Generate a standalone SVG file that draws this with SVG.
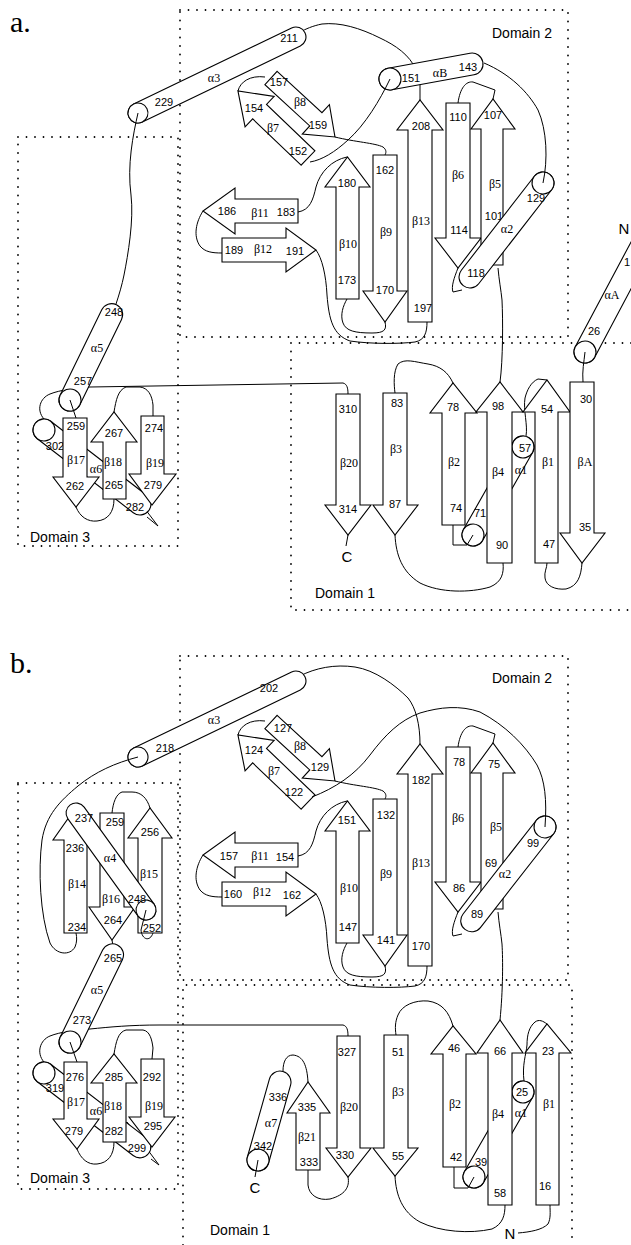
<svg xmlns="http://www.w3.org/2000/svg" width="631" height="1245" viewBox="0 0 631 1245">
<style>
.s{fill:#fff;stroke:#000;stroke-width:1.1}
.c{fill:none;stroke:#000;stroke-width:1}
.box{fill:none;stroke:#000;stroke-width:1.8;stroke-dasharray:0 8.5;stroke-linecap:round}
text{font-family:"Liberation Sans",Arial,sans-serif;fill:#000}
.n{font-size:11px;text-anchor:middle}
.g{font-family:"Liberation Serif","Times New Roman",serif;font-size:12px;text-anchor:middle}
.d{font-size:14px}
.p{font-family:"Liberation Serif","Times New Roman",serif;font-size:30px}
.t{font-size:15px;text-anchor:middle}
</style>
<rect width="631" height="1245" fill="#fff"/>
<g id="domain-boxes">
<path class="box" d="M180,10 H568 V337 H180 Z"/>
<path class="box" d="M631,343 H291 V610 H631"/>
<path class="box" d="M18,137 H178 V546 H18 Z"/>
<path class="box" d="M180,656 H568 V980 H180 Z"/>
<path class="box" d="M183,1245 V985 H572 V1245"/>
<path class="box" d="M18,783 H178 V1189 H18 Z"/>
</g>
<g id="panel-labels">
<text class="p" x="10" y="32">a.</text>
<text class="p" x="10" y="673">b.</text>
<text class="d" x="492" y="38">Domain 2</text>
<text class="d" x="30" y="542">Domain 3</text>
<text class="d" x="315" y="598">Domain 1</text>
<text class="d" x="492" y="683">Domain 2</text>
<text class="d" x="30" y="1183">Domain 3</text>
<text class="d" x="210" y="1235">Domain 1</text>
</g>
<g id="connectors">
<path class="c" d="M582,563 C581,576 578,586 566,589 C555,590 546,586 545,578 C544,572 547,568 547,563"/>
<path class="c" d="M547,380 L538,379 C531,382 527,390 525,398 C523,410 528,425 526,436"/>
<path class="c" d="M453,383 C448,372 440,366 428,364 C415,362 405,358 398,364 C393,372 394,385 395,393"/>
<path class="c" d="M395,535 C396,555 402,572 420,583 C440,593 470,593 490,587 C502,582 504,573 503,563"/>
<path class="c" d="M500,382 C503,360 503,320 502,300 C501,290 499,280 498,268"/>
<path class="c" d="M493,99 L495,90 L473,82 C466,81 460,88 458,103"/>
<path class="c" d="M458,268 C454,278 451,287 453,292 L462,290"/>
<path class="c" d="M238,91 C240,82 250,75 265,77"/>
<path class="c" d="M335,137 C355,142 375,143 383,147 C387,150 386,153 385,155"/>
<path class="c" d="M347,299 C343,306 340,315 343,323 C346,331 355,333 372,333 C384,333 387,330 385,322"/>
<path class="c" d="M347,157 C332,160 320,172 316,187 C313,200 310,210 298,212"/>
<path class="c" d="M203,211 C196,222 193,236 200,246 C205,252 212,253 222,253"/>
<path class="c" d="M316,250 C322,258 326,275 327,295 C329,320 333,335 350,341 C370,344 400,344 415,342 C425,340 427,332 427,322"/>
<path class="c" d="M420,100 L420,80"/>
<path class="c" d="M416,70 C410,55 395,45 380,38 C360,28 340,22 322,24 C312,26 306,29 300,32"/>
<path class="c" d="M76,507 C80,517 88,522 97,521 C108,520 114,512 114,499"/>
<path class="c" d="M114,412 C116,400 118,390 126,387 L140,387 C148,388 152,395 153,405 L153,416"/>
<path class="c" d="M126,484 L158,526 L147,517"/>
<path class="c" d="M44,419 C36,410 40,398 50,394 C60,390 75,388 90,387 L343,383 C347,384 348,388 348,394"/>
<path class="c" d="M348,535 L346,546"/>
<path class="c" d="M238,735 C240,726 250,719 265,721"/>
<path class="c" d="M335,781 C355,786 375,787 383,791 C387,794 386,797 385,799"/>
<path class="c" d="M347,943 C343,950 340,959 343,967 C346,975 355,977 372,977 C384,977 387,974 385,966"/>
<path class="c" d="M347,801 C332,804 320,816 316,831 C313,844 310,854 298,856"/>
<path class="c" d="M203,855 C196,866 193,880 200,890 C205,896 212,897 222,897"/>
<path class="c" d="M316,894 C322,902 326,919 327,939 C329,964 333,979 350,985 C370,988 400,988 415,986 C425,984 427,976 427,966"/>
<path class="c" d="M493,743 L495,734 L473,726 C466,725 460,732 458,747"/>
<path class="c" d="M500,1020 C503,990 503,960 502,944 C501,934 499,924 498,912"/>
<path class="c" d="M458,912 C454,922 451,931 453,936 L462,934"/>
<path class="c" d="M300,676 C315,668 335,664 355,667 C375,670 395,685 408,698 C416,708 420,725 420,744"/>
<path class="c" d="M150,808 C147,798 141,792 132,792 L122,792 C116,794 113,803 112,813"/>
<path class="c" d="M112,940 L113,946"/>
<path class="c" d="M77,1149 C81,1159 88,1165 97,1164 C108,1163 114,1155 114,1142"/>
<path class="c" d="M114,1054 C116,1042 118,1032 126,1030 L143,1030 C150,1031 152,1040 153,1048 L152,1059"/>
<path class="c" d="M127,1122 L159,1165 L151,1159"/>
<path class="c" d="M44,1062 C36,1053 40,1040 50,1036 C60,1032 75,1030 90,1029 C110,1027 130,1025 160,1025 L343,1025 C347,1026 348,1030 348,1036"/>
<path class="c" d="M348,1177 C350,1187 345,1195 330,1199 C318,1201 309,1195 308,1185 L308,1170"/>
<path class="c" d="M308,1082 C307,1065 303,1056 293,1055 C286,1055 283,1062 283,1071"/>
<path class="c" d="M453,1026 C449,1012 442,1003 428,1001 C415,1000 402,1005 398,1015 C395,1022 395,1028 396,1035"/>
<path class="c" d="M395,1176 C396,1195 402,1212 420,1222 C440,1232 470,1234 492,1229 C503,1224 505,1215 505,1205"/>
<path class="c" d="M518,1233 C530,1232 542,1230 548,1224 C551,1218 550,1212 550,1205"/>
<path class="c" d="M547,1024 C543,1021 539,1019 535,1022 C529,1027 527,1035 527,1045 C526,1055 522,1065 524,1081"/>
</g>
<!-- Panel a, Domain 2 -->
<g id="a-beta8"><polygon class="s" transform="translate(271,78) rotate(42.67)" points="0,-9 61,-9 61,-20 87,0 61,20 61,9 0,9"/><text class="n" x="279" y="86">157</text><text class="g" x="300" y="106">β8</text><text class="n" x="318" y="129">159</text></g>
<g id="a-beta7"><polygon class="s" transform="translate(308,158) rotate(-136.25)" points="0,-10 67,-10 67,-21 97,0 67,21 67,10 0,10"/><text class="n" x="254" y="112">154</text><text class="g" x="273" y="132">β7</text><text class="n" x="298" y="155">152</text></g>
<g id="a-beta9"><polygon class="s" points="373,155 397,155 397,291 407,291 385,322 363,291 373,291"/><text class="n" x="385" y="174">162</text><text class="g" x="386" y="236">β9</text><text class="n" x="385" y="294">170</text></g>
<g id="a-beta10"><polygon class="s" points="336,299 359,299 359,187 370,187 347.5,157 325,187 336,187"/><text class="n" x="347" y="187">180</text><text class="g" x="348" y="248">β10</text><text class="n" x="347" y="284">173</text></g>
<g id="a-beta11"><polygon class="s" points="298,199 298,223 235,223 235,234 203,211 235,188 235,199"/><text class="n" x="227" y="215">186</text><text class="g" x="260" y="217">β11</text><text class="n" x="286" y="216">183</text></g>
<g id="a-beta12"><polygon class="s" points="222,238 286,238 286,228 316,250 286,272 286,262 222,262"/><text class="n" x="234" y="254">189</text><text class="g" x="263" y="253">β12</text><text class="n" x="295" y="255">191</text></g>
<g id="a-beta13"><polygon class="s" points="408,322 432,322 432,130 443,130 420,100 397,130 408,130"/><text class="n" x="421" y="130">208</text><text class="g" x="421" y="225">β13</text><text class="n" x="423" y="312">197</text></g>
<g id="a-beta6"><polygon class="s" points="446,103 470,103 470,238 481,238 458,268 435,238 446,238"/><text class="n" x="458" y="121">110</text><text class="g" x="458" y="179">β6</text><text class="n" x="459" y="234">114</text></g>
<g id="a-beta5"><polygon class="s" points="481,265 503,265 503,129 515,129 493,99 471,129 481,129"/><text class="n" x="493" y="119">107</text><text class="g" x="495" y="188">β5</text><text class="n" x="494" y="220">101</text></g>
<g id="a-alpha2"><g transform="translate(543,183) rotate(127.83)"><rect class="s" x="-11" y="-11" width="141" height="22" rx="11"/><circle class="s" r="11"/></g><text class="n" x="536" y="202">129</text><text class="g" x="507" y="233">α2</text><text class="n" x="476" y="277">118</text></g>
<g id="a-alphaB"><g transform="translate(390,79) rotate(-10.37)"><rect class="s" x="-11" y="-11" width="105.4" height="22" rx="11"/><circle class="s" r="11"/></g><text class="n" x="411" y="82">151</text><text class="g" x="440" y="77">αB</text><text class="n" x="468" y="71">143</text></g>
<g id="a-alpha3"><g transform="translate(138,113) rotate(-25.7)"><rect class="s" x="-10" y="-10" width="195.3" height="20" rx="10"/><circle class="s" r="10"/></g><text class="n" x="164" y="106">229</text><text class="g" x="214" y="82">α3</text><text class="n" x="289" y="42">211</text></g>
<!-- Panel a, Domain 1 -->
<g id="a-beta20"><polygon class="s" points="336,394 360,394 360,505 371,505 348,535 325,505 336,505"/><text class="n" x="348" y="413">310</text><text class="g" x="349" y="467">β20</text><text class="n" x="348" y="513">314</text></g>
<g id="a-beta3"><polygon class="s" points="383,393 407,393 407,505 418,505 395,535 373,505 383,505"/><text class="n" x="397" y="407">83</text><text class="g" x="396" y="453">β3</text><text class="n" x="395" y="508">87</text></g>
<g id="a-beta2"><polygon class="s" points="442,525 465,525 465,413 477,413 453,383 430,413 442,413"/><text class="n" x="453" y="411">78</text><text class="g" x="454" y="466">β2</text><text class="n" x="456" y="512">74</text></g>
<g id="a-alpha1"><g transform="translate(523,447) rotate(119.6)"><rect class="s" x="-11" y="-11" width="123.2" height="22" rx="11"/><circle class="s" r="11"/><circle class="s" cx="101.2" r="11"/></g><text class="n" x="525" y="452">57</text><text class="g" x="521" y="474">α1</text><text class="n" x="480" y="517">71</text></g>
<g id="a-beta4"><polygon class="s" points="487,563 512,563 512,412 523,412 500,382 476,412 487,412"/><text class="n" x="498" y="410">98</text><text class="g" x="498" y="476">β4</text><text class="n" x="502" y="549">90</text></g>
<g id="a-beta1"><polygon class="s" points="535,563 558,563 558,412 570,412 547,380 523,412 535,412"/><text class="n" x="547" y="413">54</text><text class="g" x="548" y="466">β1</text><text class="n" x="549" y="548">47</text></g>
<g id="a-betaA"><polygon class="s" points="570,382 594,382 594,533 605,533 582,563 560,533 570,533"/><text class="n" x="586" y="403">30</text><text class="g" x="585" y="466">βA</text><text class="n" x="585" y="531">35</text></g>
<g id="a-alphaA"><g transform="translate(585,352) rotate(-62)"><rect class="s" x="-11" y="-11" width="142" height="22" rx="11"/><circle class="s" r="11"/></g><text class="n" x="594" y="335">26</text><text class="g" x="612" y="299">αA</text><text class="n" x="627" y="266">1</text><text class="t" x="624" y="234">N</text></g>
<g id="a-C"><text class="t" x="347" y="562">C</text></g>
<!-- Panel a, Domain 3 -->
<g id="a-alpha6"><g transform="translate(44,430) rotate(37.62)"><rect class="s" x="-11" y="-11" width="143.2" height="22" rx="11"/><circle class="s" r="11"/></g><text class="n" x="55" y="450">302</text><text class="g" x="96" y="473">α6</text><text class="n" x="135" y="511">282</text></g>
<g id="a-beta17"><polygon class="s" points="63,418 87,418 87,477 99,477 76,507 53,477 63,477"/><text class="n" x="76" y="430">259</text><text class="g" x="76" y="464">β17</text><text class="n" x="75" y="490">262</text></g>
<g id="a-beta18"><polygon class="s" points="103,499 126,499 126,442 137,442 114,412 91,442 103,442"/><text class="n" x="114" y="437">267</text><text class="g" x="113" y="466">β18</text><text class="n" x="114" y="489">265</text></g>
<g id="a-beta19"><polygon class="s" points="141,416 164,416 164,474 176,474 152,505 129,474 141,474"/><text class="n" x="154" y="432">274</text><text class="g" x="155" y="467">β19</text><text class="n" x="153" y="489">279</text></g>
<g id="a-alpha5"><g transform="translate(70,400) rotate(-64)"><rect class="s" x="-11" y="-11" width="117" height="22" rx="11"/><circle class="s" r="11"/></g><text class="n" x="114" y="316">248</text><text class="g" x="97" y="352">α5</text><text class="n" x="83" y="385">257</text></g>
<!-- Panel b, Domain 2 -->
<g id="b-beta8"><polygon class="s" transform="translate(271,722) rotate(42.67)" points="0,-9 61,-9 61,-20 87,0 61,20 61,9 0,9"/><text class="n" x="283" y="732">127</text><text class="g" x="300" y="750">β8</text><text class="n" x="320" y="771">129</text></g>
<g id="b-beta7"><polygon class="s" transform="translate(308,802) rotate(-136.25)" points="0,-10 67,-10 67,-21 97,0 67,21 67,10 0,10"/><text class="n" x="254" y="754">124</text><text class="g" x="274" y="775">β7</text><text class="n" x="294" y="796">122</text></g>
<g id="b-beta9"><polygon class="s" points="373,799 397,799 397,935 407,935 385,966 363,935 373,935"/><text class="n" x="386" y="819">132</text><text class="g" x="386" y="878">β9</text><text class="n" x="386" y="944">141</text></g>
<g id="b-beta10"><polygon class="s" points="336,943 359,943 359,831 370,831 347.5,801 325,831 336,831"/><text class="n" x="347" y="824">151</text><text class="g" x="349" y="892">β10</text><text class="n" x="348" y="931">147</text></g>
<g id="b-beta11"><polygon class="s" points="298,843 298,867 235,867 235,878 203,855 235,832 235,843"/><text class="n" x="229" y="860">157</text><text class="g" x="260" y="860">β11</text><text class="n" x="285" y="861">154</text></g>
<g id="b-beta12"><polygon class="s" points="222,882 286,882 286,872 316,894 286,916 286,906 222,906"/><text class="n" x="233" y="898">160</text><text class="g" x="262" y="896">β12</text><text class="n" x="292" y="899">162</text></g>
<g id="b-beta13"><polygon class="s" points="408,966 432,966 432,774 443,774 420,744 397,774 408,774"/><text class="n" x="421" y="784">182</text><text class="g" x="421" y="867">β13</text><text class="n" x="421" y="950">170</text></g>
<g id="b-beta6"><polygon class="s" points="446,747 470,747 470,882 481,882 458,912 435,882 446,882"/><text class="n" x="459" y="766">78</text><text class="g" x="458" y="822">β6</text><text class="n" x="459" y="892">86</text></g>
<g id="b-beta5"><polygon class="s" points="481,909 503,909 503,773 515,773 493,743 471,773 481,773"/><text class="n" x="494" y="768">75</text><text class="g" x="496" y="831">β5</text><text class="n" x="491" y="867">69</text></g>
<g id="b-alpha2"><g transform="translate(545,827) rotate(128)"><rect class="s" x="-11" y="-11" width="141" height="22" rx="11"/><circle class="s" r="11"/></g><text class="n" x="533" y="847">99</text><text class="g" x="505" y="878">α2</text><text class="n" x="477" y="918">89</text></g>
<g id="b-alpha3"><g transform="translate(138,757) rotate(-25.7)"><rect class="s" x="-10" y="-10" width="195.3" height="20" rx="10"/><circle class="s" r="10"/></g><text class="n" x="165" y="752">218</text><text class="g" x="214" y="724">α3</text><text class="n" x="269" y="692">202</text></g>
<!-- Panel b, Domain 3 -->
<g id="b-beta14"><polygon class="s" points="64,933 87,933 87,840 98,840 75.5,808 53,840 64,840"/><text class="n" x="75" y="852">236</text><text class="g" x="77" y="888">β14</text><text class="n" x="77" y="931">234</text></g>
<g id="b-beta16"><polygon class="s" points="100,813 124,813 124,907 135,907 112,940 89,907 100,907"/><text class="n" x="115" y="826">259</text><text class="g" x="111" y="903">β16</text><text class="n" x="113" y="924">264</text></g>
<g id="b-beta15"><polygon class="s" points="138,933 162,933 162,838 172,838 150,808 128,838 138,838"/><text class="n" x="150" y="836">256</text><text class="g" x="149" y="878">β15</text><text class="n" x="152" y="932">252</text></g>
<g id="b-alpha4"><g transform="translate(146,910) rotate(-125.8)"><rect class="s" x="-10" y="-10" width="139.6" height="20" rx="10"/><circle class="s" r="10"/></g><text class="n" x="84" y="822">237</text><text class="g" x="110" y="862">α4</text><text class="n" x="137" y="903">248</text></g>
<g id="b-alpha6"><g transform="translate(44,1073) rotate(37.6)"><rect class="s" x="-11" y="-11" width="143" height="22" rx="11"/><circle class="s" r="11"/></g><text class="n" x="55" y="1092">319</text><text class="g" x="96" y="1115">α6</text><text class="n" x="137" y="1152">299</text></g>
<g id="b-beta17"><polygon class="s" points="64,1062 87,1062 87,1119 99,1119 77,1149 53,1119 64,1119"/><text class="n" x="75" y="1081">276</text><text class="g" x="76" y="1106">β17</text><text class="n" x="74" y="1135">279</text></g>
<g id="b-beta18"><polygon class="s" points="103,1142 126,1142 126,1083 137,1083 114,1054 91,1083 103,1083"/><text class="n" x="114" y="1081">285</text><text class="g" x="113" y="1110">β18</text><text class="n" x="114" y="1135">282</text></g>
<g id="b-beta19"><polygon class="s" points="141,1059 164,1059 164,1117 175,1117 152,1147 129,1117 141,1117"/><text class="n" x="152" y="1081">292</text><text class="g" x="154" y="1110">β19</text><text class="n" x="153" y="1130">295</text></g>
<g id="b-alpha5"><g transform="translate(70,1042) rotate(-64)"><rect class="s" x="-11" y="-11" width="119" height="22" rx="11"/><circle class="s" r="11"/></g><text class="n" x="113" y="962">265</text><text class="g" x="97" y="994">α5</text><text class="n" x="82" y="1024">273</text></g>
<!-- Panel b, Domain 1 -->
<g id="b-beta20"><polygon class="s" points="337,1036 360,1036 360,1148 371,1148 348,1177 326,1148 337,1148"/><text class="n" x="347" y="1056">327</text><text class="g" x="349" y="1111">β20</text><text class="n" x="345" y="1159">330</text></g>
<g id="b-beta3"><polygon class="s" points="384,1035 408,1035 408,1148 418,1148 395,1176 373,1148 384,1148"/><text class="n" x="398" y="1056">51</text><text class="g" x="398" y="1096">β3</text><text class="n" x="398" y="1160">55</text></g>
<g id="b-beta21"><polygon class="s" points="296,1170 320,1170 320,1113 330,1113 308,1082 287,1113 296,1113"/><text class="n" x="307" y="1111">335</text><text class="g" x="307" y="1141">β21</text><text class="n" x="309" y="1166">333</text></g>
<g id="b-alpha7"><g transform="translate(258,1160) rotate(-74.25)"><rect class="s" x="-11" y="-11" width="103" height="22" rx="11"/><circle class="s" r="11"/></g><text class="n" x="278" y="1101">336</text><text class="g" x="271" y="1127">α7</text><text class="n" x="263" y="1150">342</text></g>
<g id="b-beta2"><polygon class="s" points="443,1167 466,1167 466,1054 476,1054 453,1026 431,1054 443,1054"/><text class="n" x="454" y="1052">46</text><text class="g" x="455" y="1108">β2</text><text class="n" x="456" y="1161">42</text></g>
<g id="b-alpha1"><g transform="translate(523,1092) rotate(119.96)"><rect class="s" x="-11" y="-11" width="120.1" height="22" rx="11"/><circle class="s" r="11"/><circle class="s" cx="98.1" r="11"/></g><text class="n" x="522" y="1096">25</text><text class="g" x="521" y="1117">α1</text><text class="n" x="481" y="1166">39</text></g>
<g id="b-beta4"><polygon class="s" points="488,1205 512,1205 512,1053 523,1053 500,1020 477,1053 488,1053"/><text class="n" x="500" y="1055">66</text><text class="g" x="498" y="1118">β4</text><text class="n" x="500" y="1197">58</text></g>
<g id="b-beta1"><polygon class="s" points="536,1205 559,1205 559,1053 571,1053 547,1024 525,1053 536,1053"/><text class="n" x="548" y="1055">23</text><text class="g" x="549" y="1108">β1</text><text class="n" x="545" y="1190">16</text></g>
<g id="b-termini"><text class="t" x="255" y="1193">C</text><text class="t" x="510" y="1239">N</text></g>
<g id="connectors-top">
<path class="c" d="M585,352 C584,362 582,371 583,382"/>
<path class="c" d="M473,535 L467,545 L453,545 L453,525"/>
<path class="c" d="M543,183 C548,160 547,130 538,110 C528,92 510,74 484,63"/>
<path class="c" d="M390,79 C380,100 365,125 348,140 C335,152 322,160 310,162"/>
<path class="c" d="M138,113 C133,135 127,165 131,195 C134,220 128,255 124,275 C122,285 119,295 116,304"/>
<path class="c" d="M70,400 L76,418"/>
<path class="c" d="M545,827 C547,800 545,780 537,765 C525,745 505,725 480,712 C460,705 440,707 420,713 C400,720 385,735 370,755 C355,775 335,788 312,797"/>
<path class="c" d="M138,757 C115,763 95,772 78,786 C60,801 46,815 42,840 C38,870 40,915 50,943 C56,955 70,956 75,947 C77,942 77,938 76,933"/>
<path class="c" d="M146,910 L141,930 C142,940 150,942 153,933"/>
<path class="c" d="M70,1042 L77,1062"/>
<path class="c" d="M258,1160 L255,1177"/>
<path class="c" d="M474,1177 L468,1188 L454,1188 L454,1167"/>
</g>
</svg>
